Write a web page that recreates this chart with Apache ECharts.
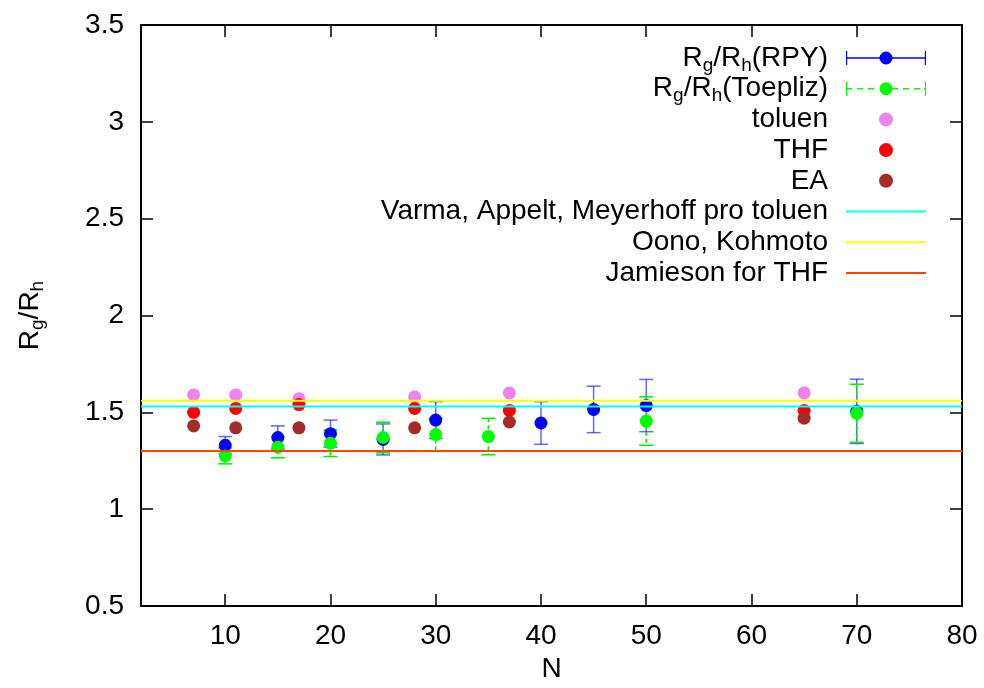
<!DOCTYPE html>
<html>
<head>
<meta charset="utf-8">
<script src="https://cdn.jsdelivr.net/npm/echarts@6/dist/echarts.min.js"></script>
<style>
  html, body { margin: 0; padding: 0; background: #fff; }
  #chart { width: 984px; height: 688px; }
</style>
</head>
<body>
<div id="chart"></div>
<script>
// Ratio of radius of gyration to hydrodynamic radius versus chain length N

// Simulations: RPY tensor
const N_RPY = [10, 15, 20, 25, 30, 40, 45, 50, 70];
const RPY = [1.33, 1.37, 1.39, 1.36, 1.46, 1.445, 1.515, 1.535, 1.505];
const RPY_ERR = [0.045, 0.06, 0.07, 0.08, 0.095, 0.11, 0.12, 0.135, 0.166];

// Simulations: Toeplitz approach
const N_TOE = [10, 15, 20, 25, 30, 35, 50, 70];
const TOE = [1.275, 1.32, 1.34, 1.37, 1.385, 1.375, 1.455, 1.495];
const TOE_ERR = [0.041, 0.055, 0.068, 0.079, 0.083, 0.094, 0.125, 0.15];

// Experimental values in three solvents
const N_EXP = [7, 11, 17, 28, 37, 65];
const TOLUEN = [1.59, 1.59, 1.57, 1.58, 1.60, 1.60];
const THF = [1.50, 1.52, 1.54, 1.52, 1.51, 1.51];
const EA = [1.43, 1.42, 1.42, 1.42, 1.45, 1.47];

// Theoretical / literature constants
const VARMA = 1.53;
const OONO = 1.56;
const JAMIESON = 1.30;

// Axis ranges and tick labels
const X_MIN = 2, X_MAX = 80;
const X_TICKS = [10, 20, 30, 40, 50, 60, 70, 80];
const Y_MIN = 0.5, Y_MAX = 3.5, Y_STEP = 0.5;

const FONT = 'Liberation Sans';
const FS = 28;
const LH = 34;

const NAMES = {
  rpy: 'Rg/Rh(RPY)',
  toe: 'Rg/Rh(Toepliz)',
  toluen: 'toluen',
  thf: 'THF',
  ea: 'EA',
  varma: 'Varma, Appelt, Meyerhoff pro toluen',
  oono: 'Oono, Kohmoto',
  jam: 'Jamieson for THF'
};
const LABELS = {};
LABELS[NAMES.rpy] = 'R{s|g}/R{s|h}(RPY)';
LABELS[NAMES.toe] = 'R{s|g}/R{s|h}(Toepliz)';

// subscript: smaller glyphs sitting at the bottom of the line box
const subStyle = { fontFamily: FONT, fontSize: 19, lineHeight: LH, verticalAlign: 'bottom', color: '#000' };

function pairs(xs, ys) { return xs.map((x, i) => [x, ys[i]]); }
function triples(xs, ys, es) { return xs.map((x, i) => [x, ys[i], es[i]]); }

// Vertical error bar with caps, drawn in axis coordinates
function errorBar(color, dashed) {
  return function (params, api) {
    const x = api.value(0), y = api.value(1), e = api.value(2);
    const top = api.coord([x, y + e]);
    const bot = api.coord([x, y - e]);
    const half = 7;
    const style = { stroke: color, lineWidth: 1.5, fill: null, lineDash: dashed ? [4, 3] : null };
    const capStyle = { stroke: color, lineWidth: 1.5, fill: null };
    return {
      type: 'group',
      children: [
        { type: 'line', shape: { x1: top[0], y1: top[1], x2: bot[0], y2: bot[1] }, style: style },
        { type: 'line', shape: { x1: top[0] - half, y1: top[1], x2: top[0] + half, y2: top[1] }, style: capStyle },
        { type: 'line', shape: { x1: bot[0] - half, y1: bot[1], x2: bot[0] + half, y2: bot[1] }, style: capStyle }
      ]
    };
  };
}

// Legend samples: error bar with caps and a dot in the middle (80 x 14)
const ICON_BAR = 'path://M0,0H1.2V14H0Z M0,6.3H80V7.7H0Z M78.8,0H80V14H78.8Z M46.5,7A6.5,6.5,0,1,1,33.5,7A6.5,6.5,0,1,1,46.5,7Z';
const ICON_DASH = 'path://M0,0H1.2V14H0Z M0,6.3H6V7.7H0Z M11,6.3H17V7.7H11Z M22,6.3H28V7.7H22Z M46,6.3H52V7.7H46Z M57,6.3H63V7.7H57Z M68,6.3H74V7.7H68Z M78,6.3H80V7.7H78Z M78.8,0H80V14H78.8Z M46.5,7A6.5,6.5,0,1,1,33.5,7A6.5,6.5,0,1,1,46.5,7Z';
// plain line sample: hide the marker that line legends carry
const NO_MARKER = { color: 'rgba(0,0,0,0)', borderWidth: 0 };

const axisLine = { show: true, onZero: false, lineStyle: { color: '#000', width: 2 } };
const tick = { show: true, inside: true, length: 12, lineStyle: { color: '#000', width: 1.5 } };

const option = {
  animation: false,
  backgroundColor: '#fff',
  textStyle: { fontFamily: FONT },
  grid: { left: 141, right: 22, top: 25, bottom: 82 },
  xAxis: [
    {
      type: 'value', min: X_MIN, max: X_MAX, position: 'bottom',
      name: 'N', nameLocation: 'middle', nameGap: 47,
      nameTextStyle: { fontFamily: FONT, fontSize: FS, color: '#000' },
      axisLine: axisLine,
      axisTick: Object.assign({ customValues: X_TICKS }, tick),
      axisLabel: { customValues: X_TICKS, margin: 16, fontFamily: FONT, fontSize: FS, color: '#000' },
      splitLine: { show: false }
    },
    {
      type: 'value', min: X_MIN, max: X_MAX, position: 'top',
      axisLine: axisLine,
      axisTick: Object.assign({ customValues: X_TICKS }, tick),
      axisLabel: { show: false },
      splitLine: { show: false }
    }
  ],
  yAxis: [
    {
      type: 'value', min: Y_MIN, max: Y_MAX, interval: Y_STEP, position: 'left',
      name: 'R{s|g}/R{s|h}', nameLocation: 'middle', nameGap: 94,
      nameTextStyle: { fontFamily: FONT, fontSize: FS, lineHeight: LH, color: '#000', rich: { s: subStyle } },
      axisLine: axisLine,
      axisTick: tick,
      axisLabel: { margin: 17, fontFamily: FONT, fontSize: FS, color: '#000' },
      splitLine: { show: false }
    },
    {
      type: 'value', min: Y_MIN, max: Y_MAX, interval: Y_STEP, position: 'right',
      axisLine: axisLine,
      axisTick: tick,
      axisLabel: { show: false },
      splitLine: { show: false }
    }
  ],
  legend: {
    orient: 'vertical', right: 57, top: 41, align: 'right', padding: 0,
    itemWidth: 80, itemHeight: 14, itemGap: -3.3,
    textStyle: {
      fontFamily: FONT, fontSize: FS, lineHeight: LH, color: '#000',
      rich: { s: subStyle, gap: { width: 13, fontSize: FS, lineHeight: LH } }
    },
    formatter: function (name) { return (LABELS[name] || name) + '{gap| }'; },
    data: [
      { name: NAMES.rpy, icon: ICON_BAR },
      { name: NAMES.toe, icon: ICON_DASH },
      { name: NAMES.toluen, icon: 'circle' },
      { name: NAMES.thf, icon: 'circle' },
      { name: NAMES.ea, icon: 'circle' },
      { name: NAMES.varma, itemStyle: NO_MARKER },
      { name: NAMES.oono, itemStyle: NO_MARKER },
      { name: NAMES.jam, itemStyle: NO_MARKER }
    ]
  },
  series: [
    {
      name: 'RPY error', type: 'custom', renderItem: errorBar('rgba(0,0,255,0.6)', false),
      data: triples(N_RPY, RPY, RPY_ERR), encode: { x: 0, y: 1 }, z: 2
    },
    {
      name: NAMES.rpy, type: 'scatter', symbol: 'circle', symbolSize: 13,
      itemStyle: { color: '#0000ff', opacity: 1 }, data: pairs(N_RPY, RPY), z: 2
    },
    {
      name: 'Toepliz error', type: 'custom', renderItem: errorBar('#00ee00', true),
      data: triples(N_TOE, TOE, TOE_ERR), encode: { x: 0, y: 1 }, z: 2
    },
    {
      name: NAMES.toe, type: 'scatter', symbol: 'circle', symbolSize: 13,
      itemStyle: { color: '#00ff00', opacity: 1 }, data: pairs(N_TOE, TOE), z: 2
    },
    {
      name: NAMES.toluen, type: 'scatter', symbol: 'circle', symbolSize: 13,
      itemStyle: { color: '#ee82ee', opacity: 1 }, data: pairs(N_EXP, TOLUEN), z: 2
    },
    {
      name: NAMES.thf, type: 'scatter', symbol: 'circle', symbolSize: 13,
      itemStyle: { color: '#ff0000', opacity: 1 }, data: pairs(N_EXP, THF), z: 2
    },
    {
      name: NAMES.ea, type: 'scatter', symbol: 'circle', symbolSize: 13,
      itemStyle: { color: '#a52a2a', opacity: 1 }, data: pairs(N_EXP, EA), z: 2
    },
    {
      name: NAMES.varma, type: 'line', symbol: 'none', z: 3,
      lineStyle: { color: '#00ffff', width: 2 }, itemStyle: { color: '#00ffff' },
      data: [[X_MIN, VARMA], [X_MAX, VARMA]]
    },
    {
      name: NAMES.oono, type: 'line', symbol: 'none', z: 3,
      lineStyle: { color: '#ffff00', width: 2 }, itemStyle: { color: '#ffff00' },
      data: [[X_MIN, OONO], [X_MAX, OONO]]
    },
    {
      name: NAMES.jam, type: 'line', symbol: 'none', z: 3,
      lineStyle: { color: '#ff4500', width: 2 }, itemStyle: { color: '#ff4500' },
      data: [[X_MIN, JAMIESON], [X_MAX, JAMIESON]]
    }
  ]
};

const chart = echarts.init(document.getElementById('chart'), null, { renderer: 'canvas' });
chart.setOption(option);
</script>
</body>
</html>
